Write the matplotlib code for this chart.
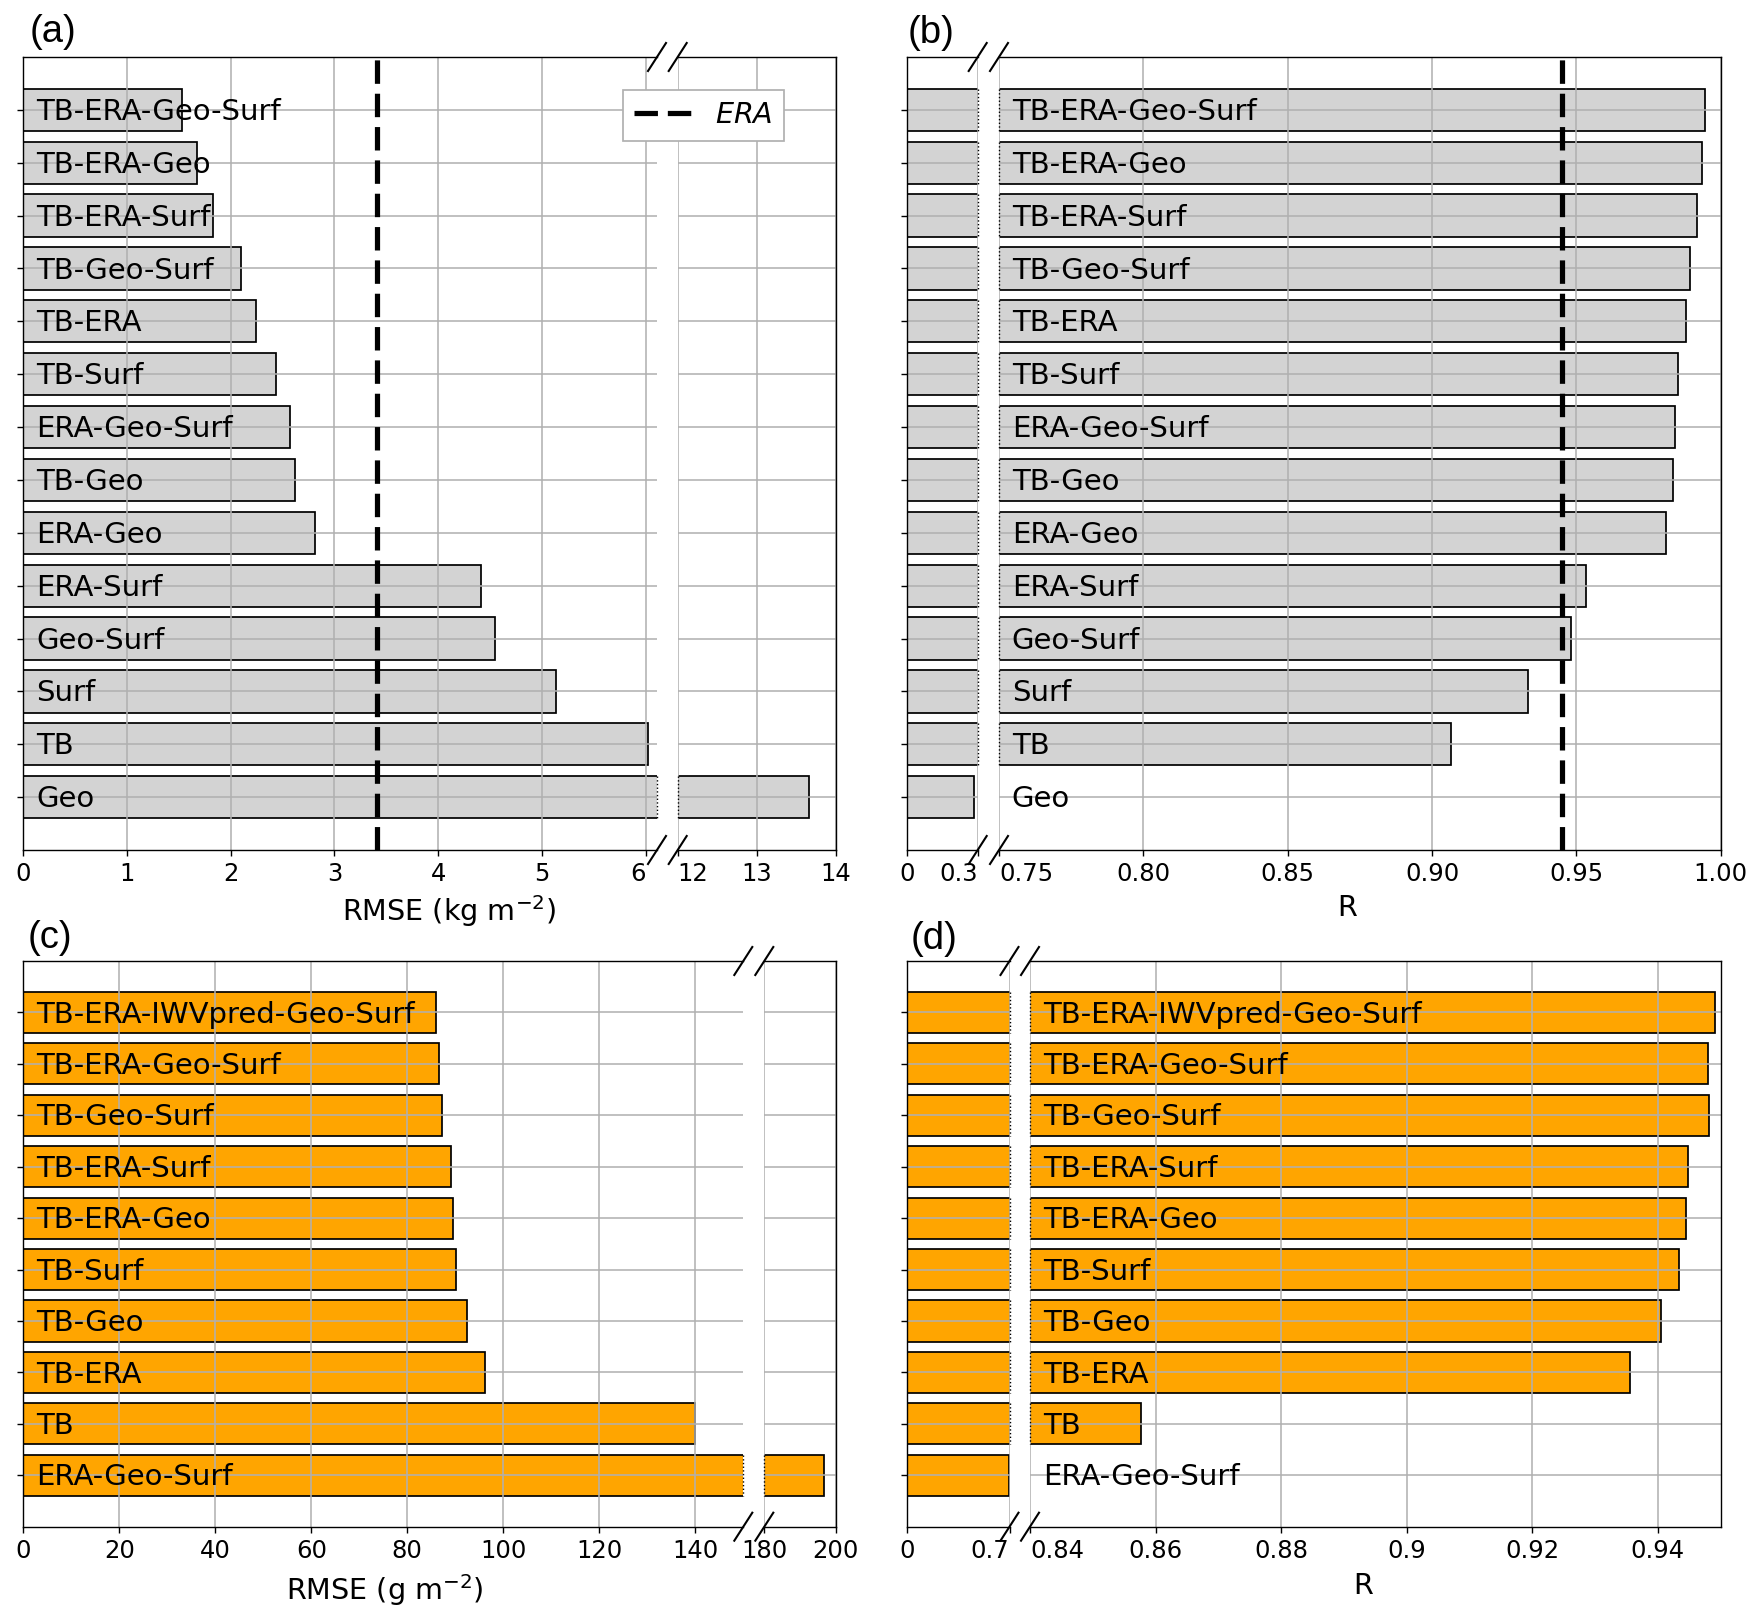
import matplotlib
matplotlib.use('Agg')
import matplotlib.pyplot as plt
from matplotlib.lines import Line2D

# --- data -------------------------------------------------------------
labels_ab = ['TB-ERA-Geo-Surf', 'TB-ERA-Geo', 'TB-ERA-Surf', 'TB-Geo-Surf', 'TB-ERA',
             'TB-Surf', 'ERA-Geo-Surf', 'TB-Geo', 'ERA-Geo', 'ERA-Surf', 'Geo-Surf',
             'Surf', 'TB', 'Geo']
rmse_a = [1.53, 1.67, 1.83, 2.10, 2.24, 2.44, 2.57, 2.62, 2.81, 4.41, 4.55, 5.14, 6.02, 13.66]
r_b = [0.9946, 0.9935, 0.9918, 0.9895, 0.9879, 0.9852, 0.9840, 0.9836, 0.9809,
       0.9533, 0.9482, 0.9334, 0.9065, 0.286]
era_rmse = 3.41
era_r = 0.945

labels_cd = ['TB-ERA-IWVpred-Geo-Surf', 'TB-ERA-Geo-Surf', 'TB-Geo-Surf', 'TB-ERA-Surf',
             'TB-ERA-Geo', 'TB-Surf', 'TB-Geo', 'TB-ERA', 'TB', 'ERA-Geo-Surf']
rmse_c = [86.0, 86.5, 87.2, 89.0, 89.5, 90.2, 92.5, 96.1, 140.0, 196.6]
r_d = [0.9491, 0.9480, 0.9482, 0.9448, 0.9445, 0.9434, 0.9405, 0.9355, 0.8577, 0.695]

# --- figure -----------------------------------------------------------
W, H, DPI = 1761, 1623, 125
fig = plt.figure(figsize=(W / DPI, H / DPI), dpi=DPI)
plt.rcParams['xtick.labelsize'] = 14


def px_axes(x0, x1, ytop, ybot):
    return fig.add_axes([x0 / W, 1 - ybot / H, (x1 - x0) / W, (ybot - ytop) / H])


def slash(xc, yc):
    # little "/" mark centred on a pixel position
    xs = [(xc - 9) / W, (xc + 9) / W]
    ys = [1 - (yc + 14) / H, 1 - (yc - 14) / H]
    fig.add_artist(Line2D(xs, ys, color='k', lw=1.2, transform=fig.transFigure))


def broken_panel(xl, xr, ytop, ybot, labels, values, color, lim_l, lim_r,
                 ticks_l, ticks_r, tl_l, tl_r, label_in_left, align_break):
    n = len(labels)
    pos = list(range(n))
    axl = px_axes(xl[0], xl[1], ytop, ybot)
    axr = px_axes(xr[0], xr[1], ytop, ybot)
    for ax, lim, ticks, tl in ((axl, lim_l, ticks_l, tl_l), (axr, lim_r, ticks_r, tl_r)):
        ax.barh(pos, values, height=0.8, color=color, edgecolor='k', linewidth=1.0)
        ax.set_xlim(*lim)
        ax.set_ylim(n, -1)
        ax.grid(True, color='#b0b0b0', lw=0.9)
        ax.set_xticks(ticks)
        ax.set_xticklabels(tl)
    axl.set_yticks(pos)
    axl.set_yticklabels([])
    axr.set_yticks(pos)
    axr.set_yticklabels([])
    axr.tick_params(axis='y', left=False)
    axl.spines['right'].set_visible(False)
    axr.spines['left'].set_visible(False)
    if align_break:
        axl.get_xticklabels()[-1].set_ha('right')
        axr.get_xticklabels()[0].set_ha('left')
    # dotted ends where bars are cut by the break
    for p, v in zip(pos, values):
        if v > lim_l[1]:
            axl.plot([lim_l[1]] * 2, [p - 0.4, p + 0.4], ls=':', lw=0.8, color='k', clip_on=False)
            axr.plot([lim_r[0]] * 2, [p - 0.4, p + 0.4], ls=':', lw=0.8, color='k', clip_on=False)
    tax = axl if label_in_left else axr
    for p, lab in zip(pos, labels):
        tax.annotate(lab, xy=(0, p), xycoords=('axes fraction', 'data'),
                     xytext=(7.3, -1.2), textcoords='offset points',
                     va='center', ha='left', fontsize=16.8, zorder=5)
    for yy in (ytop, ybot):
        slash(xl[1], yy)
        slash(xr[0], yy)
    return axl, axr


# (a)
axa_l, axa_r = broken_panel((23.3, 657), (677.7, 836), 57, 850, labels_ab, rmse_a, '#d3d3d3',
                            (0, 6.11), (12, 14), range(0, 7), [12, 13, 14],
                            [str(t) for t in range(0, 7)], ['12', '13', '14'], True, True)
axa_l.axvline(era_rmse, color='k', ls='--', lw=3, dashes=(4.5, 1.9), zorder=4)

# (b)
axb_l, axb_r = broken_panel((906.7, 977.7), (999, 1720.7), 57, 850, labels_ab, r_b, '#d3d3d3',
                            (0, 0.3), (0.75, 1.0), [0, 0.3], [0.75, 0.80, 0.85, 0.90, 0.95, 1.00],
                            ['0', '0.3'], ['0.75', '0.80', '0.85', '0.90', '0.95', '1.00'],
                            False, True)
axb_r.axvline(era_r, color='k', ls='--', lw=3, dashes=(4.5, 1.9), zorder=4)

# (c)
broken_panel((23.3, 743.3), (764.3, 835.7), 961, 1526.7, labels_cd, rmse_c, '#ffa500',
             (0, 150), (180, 200), range(0, 141, 20), [180, 200],
             [str(t) for t in range(0, 141, 20)], ['180', '200'], True, False)

# (d)
broken_panel((906.7, 1009.5), (1030, 1720.7), 961, 1526.7, labels_cd, r_d, '#ffa500',
             (0, 0.7), (0.84, 0.95), [0, 0.7], [0.84, 0.86, 0.88, 0.90, 0.92, 0.94],
             ['0', '0.7'], ['0.84', '0.86', '0.88', '0.9', '0.92', '0.94'], False, True)

# legend for the ERA reference line
fig.legend(handles=[Line2D([], [], color='k', ls='--', lw=3, dashes=(4.5, 1.9))],
           labels=['$ERA$'], loc='upper left', bbox_to_anchor=(623 / W, 1 - 90 / H),
           borderaxespad=0, fancybox=False, framealpha=1, edgecolor='#b0b0b0',
           fontsize=16.5, handlelength=2.0)

# axis titles and panel letters
fig.text(449 / W, 1 - 911 / H, 'RMSE (kg m$^{-2}$)', ha='center', va='center', fontsize=16.5)
fig.text(1347 / W, 1 - 908 / H, 'R', ha='center', va='center', fontsize=16.5)
fig.text(385 / W, 1 - 1590 / H, 'RMSE (g m$^{-2}$)', ha='center', va='center', fontsize=16.5)
fig.text(1363 / W, 1 - 1586 / H, 'R', ha='center', va='center', fontsize=16.5)

for txt, x, y in (('(a)', 30, 32), ('(b)', 908, 33), ('(c)', 28, 938), ('(d)', 911, 939)):
    fig.text(x / W, 1 - y / H, txt, ha='left', va='center', fontsize=22, family='Liberation Sans')

fig.savefig('out.png', dpi=DPI)
